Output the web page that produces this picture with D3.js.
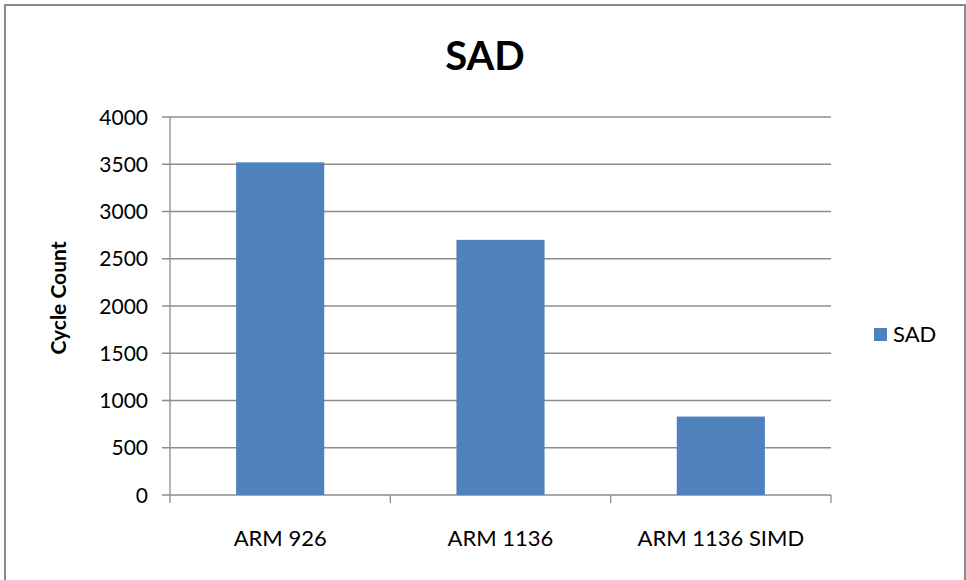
<!DOCTYPE html>
<html><head><meta charset="utf-8">
<script src="https://cdn.jsdelivr.net/npm/d3@7"></script>
<style>body{margin:0;background:#fff}</style>
</head><body>
<svg id="c" width="966" height="580"></svg>
<script>
const categories = ["ARM 926", "ARM 1136", "ARM 1136 SIMD"];
const values = [3520, 2700, 830];
const yTicks = [0, 500, 1000, 1500, 2000, 2500, 3000, 3500, 4000];
const seriesName = "SAD";
const chartTitle = "SAD";
const yTitle = "Cycle Count";

const svg = d3.select("#c");
const font = "Lato, 'Open Sans', sans-serif";
svg.append("rect").attr("x",5).attr("y",5).attr("width",960).attr("height",590)
  .attr("fill","#fff").attr("stroke","#8a8a8a").attr("stroke-width",2);

const L=170, R=831, T=117, B=495;
const xc = d3.scaleBand().domain(categories).range([L,R]);
const y = d3.scaleLinear().domain([0,4000]).range([B,T]);

// gridlines
svg.append("g").selectAll("line").data(yTicks).join("line")
  .attr("x1",L-8).attr("x2",R).attr("y1",d=>y(d)).attr("y2",d=>y(d))
  .attr("stroke","#8c8c8c").attr("stroke-width",1.3);

// bars
svg.append("g").selectAll("rect").data(values).join("rect")
  .attr("x",(d,i)=>xc(categories[i])+xc.bandwidth()*0.3)
  .attr("width",xc.bandwidth()*0.4)
  .attr("y",d=>y(d)).attr("height",d=>B-y(d)).attr("fill","#4f81bd");

// y axis line
svg.append("line").attr("x1",L).attr("x2",L).attr("y1",T).attr("y2",B)
  .attr("stroke","#8c8c8c").attr("stroke-width",1.3);
// x axis ticks
const xt = categories.map(c=>xc(c)).concat([R]);
svg.append("g").selectAll("line").data(xt).join("line")
  .attr("x1",d=>d).attr("x2",d=>d).attr("y1",B).attr("y2",B+8)
  .attr("stroke","#8c8c8c").attr("stroke-width",1.3);

// y tick labels
svg.append("g").selectAll("text").data(yTicks).join("text")
  .attr("x",L-22).attr("y",d=>y(d)).attr("dy","0.36em").attr("text-anchor","end")
  .attr("font-family",font).attr("font-size",21).attr("fill","#000").text(d=>d);

// x labels
svg.append("g").selectAll("text").data(categories).join("text")
  .attr("x",d=>xc(d)+xc.bandwidth()/2).attr("y",546).attr("text-anchor","middle")
  .attr("font-family",font).attr("font-size",22).attr("fill","#000").text(d=>d);

// title
svg.append("text").attr("x",485).attr("y",70).attr("text-anchor","middle")
  .attr("font-family",font).attr("font-weight","bold").attr("font-size",40).text(chartTitle);

// y title
svg.append("text").attr("transform","translate(66,298) rotate(-90)").attr("text-anchor","middle")
  .attr("font-family",font).attr("font-weight","bold").attr("font-size",21).text(yTitle);

// legend
svg.append("rect").attr("x",874).attr("y",328).attr("width",13).attr("height",13).attr("fill","#4f81bd");
svg.append("text").attr("x",893).attr("y",342).attr("font-family",font).attr("font-size",22).text(seriesName);
</script>
</body></html>
